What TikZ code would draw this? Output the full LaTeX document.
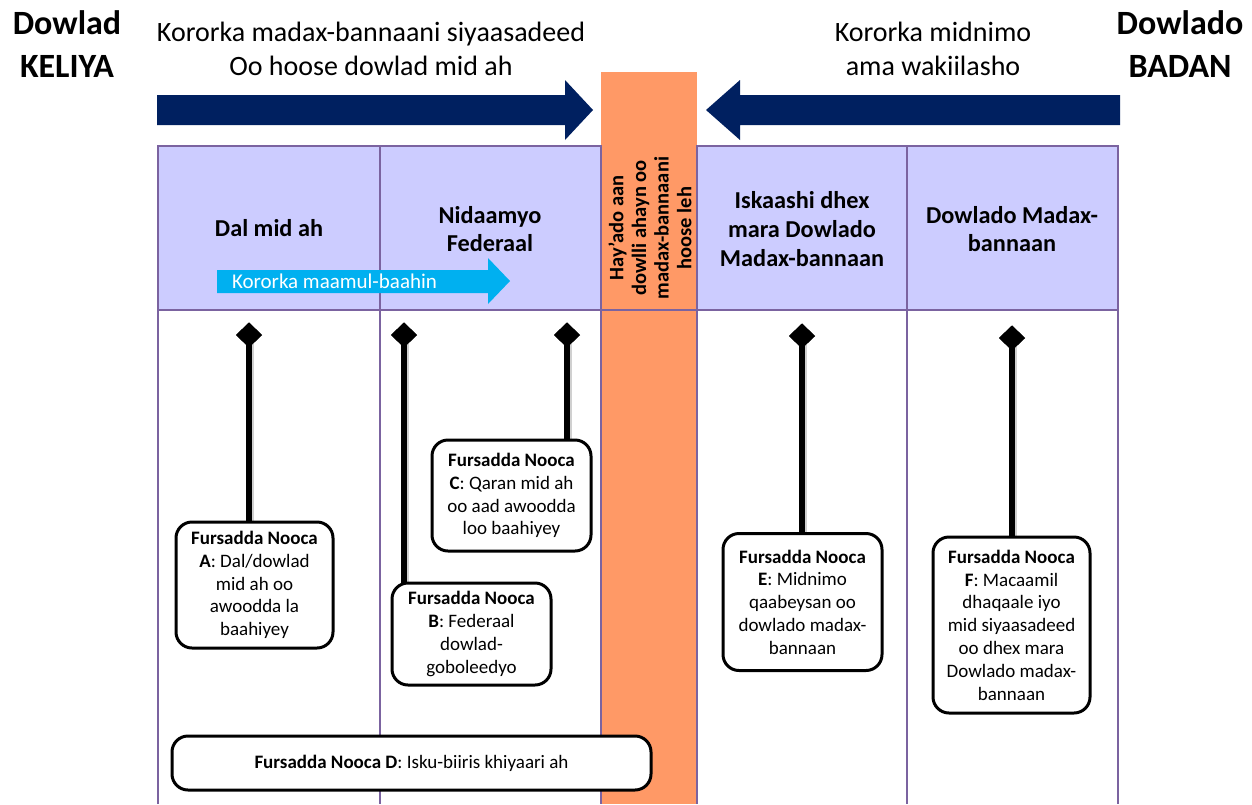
\documentclass[tikz,border=0pt]{standalone}
\usepackage{fontspec}
\setmainfont{Carlito}
\usetikzlibrary{shapes.geometric}
\definecolor{navy}{HTML}{002060}
\definecolor{orng}{HTML}{FF9966}
\definecolor{lav}{HTML}{CCCCFF}
\definecolor{purp}{HTML}{7B63A0}
\definecolor{cyanx}{HTML}{00B0F0}
\begin{document}
\begin{tikzpicture}[x=1pt,y=-1pt,
  every node/.style={inner sep=0pt, outer sep=0pt},
  gridline/.style={draw=purp, line width=1.8pt},
  hdr/.style={font=\fontsize{24.3}{28.8}\selectfont\bfseries, align=center},
  toptext/.style={font=\fontsize{28}{34}\selectfont, align=center},
  bigtext/.style={font=\fontsize{34}{43}\selectfont\bfseries, align=center},
  vtext/.style={font=\fontsize{20.5}{22.7}\selectfont\bfseries, align=center, rotate=90},
  optbox/.style={draw=black, line width=3pt, rounded corners=16pt, fill=white, align=center, font=\fontsize{19}{22.8}\selectfont},
  diam/.style={diamond, fill=black, minimum width=26pt, minimum height=25pt, inner sep=0pt},
  stem/.style={draw=black, line width=5.5pt},
  stemshadow/.style={draw=black!30, line width=5pt, opacity=0.6},
]
\useasboundingbox (0,0) rectangle (1252,804);
\fill[white] (0,0) rectangle (1252,804);

% orange band
\fill[orng] (601,72) rectangle (697,804);
% header fills
\fill[lav] (158,146) rectangle (601,310);
\fill[lav] (697,146) rectangle (1118,310);
% grid lines
\draw[gridline] (158,804) -- (158,146) -- (601,146) -- (601,804);
\draw[gridline] (697,804) -- (697,146) -- (1118,146) -- (1118,804);
\draw[gridline] (380,146) -- (380,804);
\draw[gridline] (907,146) -- (907,804);
\draw[gridline] (158,310) -- (1118,310);

% top titles
\node[bigtext] (tl) at (67,44) {Dowlad\\KELIYA};
\node[bigtext] (tr) at (1180,44) {Dowlado\\BADAN};
\node[toptext] (t1) at (371,49) {Kororka madax-bannaani siyaasadeed\\Oo hoose dowlad mid ah};
\node[toptext] (t2) at (933,49) {Kororka midnimo\\ama wakiilasho};

% navy arrows
\fill[navy] (157,95) -- (565,95) -- (565,80) -- (593,110) -- (565,140) -- (565,125) -- (157,125) -- cycle;
\fill[navy] (1120,95) -- (740,95) -- (740,80) -- (706,110) -- (740,140) -- (740,125) -- (1120,125) -- cycle;

% header texts
\node[hdr] (h1) at (269,228) {Dal mid ah};
\node[hdr] (h2) at (490,229) {Nidaamyo\\Federaal};
\node[vtext] (h3) at (650,228) {Hay’ado aan\\dowlli ahayn oo\\madax-bannaani\\hoose leh};
\node[hdr] (h4) at (802,229) {Iskaashi dhex\\mara Dowlado\\Madax-bannaan};
\node[hdr] (h5) at (1012,229) {Dowlado Madax-\\bannaan};

% cyan arrow
\fill[cyanx] (217,270) -- (488,270) -- (488,258) -- (510,281) -- (488,304) -- (488,293) -- (217,293) -- cycle;
\node[anchor=west, text=white, font=\fontsize{21}{24}\selectfont] (ca) at (232,281.5) {Kororka maamul-baahin};

% diamonds
\node[diam] (dA) at (249,335) {};
\node[diam] (dB) at (404,335) {};
\node[diam] (dC) at (567,335) {};
\node[diam] (dE) at (802,336) {};
\node[diam] (dF) at (1012,338) {};

% box positions
\coordinate (pA) at (254.5,585);
\coordinate (pB) at (471.5,634);
\coordinate (pC) at (511.5,495.5);
\coordinate (pE) at (802.5,602);
\coordinate (pF) at (1011.5,625);

% stems (drawn before boxes)
\foreach \d/\y in {dA/522, dB/586, dC/440, dE/536, dF/537}{
  \draw[stemshadow] ([xshift=2.5pt,yshift=-2pt]\d.center) -- ([xshift=2.5pt]\d.center |- 0,\y);
  \draw[stem] (\d.center) -- (\d.center |- 0,\y);
}
\node[diam] at (dA) {};
\node[diam] at (dB) {};
\node[diam] at (dC) {};
\node[diam] at (dE) {};
\node[diam] at (dF) {};

\node[optbox, minimum width=157pt, minimum height=126pt] (bA) at (pA) {\textbf{Fursadda Nooca}\\\textbf{A}: Dal/dowlad\\mid ah oo\\awoodda la\\baahiyey};
\node[optbox, minimum width=159pt, minimum height=102pt] (bB) at (pB) {\textbf{Fursadda Nooca}\\\textbf{B}: Federaal\\dowlad-\\goboleedyo};
\node[optbox, minimum width=159pt, minimum height=111pt] (bC) at (pC) {\textbf{Fursadda Nooca}\\\textbf{C}: Qaran mid ah\\oo aad awoodda\\loo baahiyey};
\node[optbox, minimum width=159pt, minimum height=137pt, text depth=0pt] (bE) at (pE) {\textbf{Fursadda Nooca}\\\textbf{E}: Midnimo\\qaabeysan oo\\dowlado madax-\\bannaan};
\node[optbox, minimum width=157pt, minimum height=176pt] (bF) at (pF) {\textbf{Fursadda Nooca}\\\textbf{F}: Macaamil\\dhaqaale iyo\\mid siyaasadeed\\oo dhex mara\\Dowlado madax-\\bannaan};
\node[optbox, minimum width=479pt, minimum height=54pt] (bD) at (411.5,763) {\textbf{Fursadda Nooca D}: Isku-biiris khiyaari ah};
\end{tikzpicture}
\end{document}
